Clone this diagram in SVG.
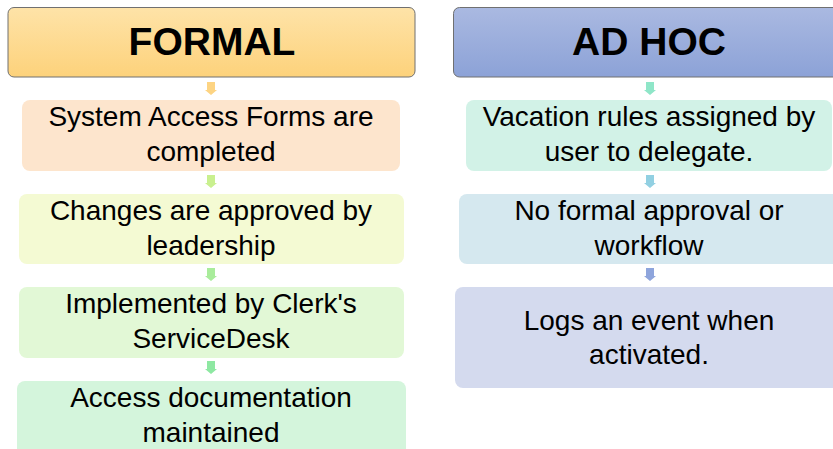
<svg xmlns="http://www.w3.org/2000/svg" width="833" height="449" viewBox="0 0 833 449">
<defs>
<linearGradient id="gOrange" x1="0" y1="0" x2="0" y2="1">
<stop offset="0" stop-color="#fee3a8"/>
<stop offset="1" stop-color="#fdd27b"/>
</linearGradient>
<linearGradient id="gBlue" x1="0" y1="0" x2="0" y2="1">
<stop offset="0" stop-color="#aab9e1"/>
<stop offset="1" stop-color="#8ca2d7"/>
</linearGradient>
<path id="arrow" d="M-4,0 H4 V8 H6 L0,13 L-6,8 H-4 Z"/>
</defs>
<style>
.hdr{stroke:#707070;stroke-width:1}
.ht{font-family:"Liberation Sans",Arial,sans-serif;font-weight:bold;font-size:39px;fill:#000;text-anchor:middle}
.t{font-family:"Liberation Sans",Arial,sans-serif;font-size:28px;fill:#000;text-anchor:middle}
</style>
<rect width="833" height="449" fill="#ffffff"/>
<g id="connectors">
<use href="#arrow" x="211" y="82" fill="#fdd483"/>
<use href="#arrow" x="211" y="175" fill="#c9f08f"/>
<use href="#arrow" x="211" y="268" fill="#a9ec9b"/>
<use href="#arrow" x="211" y="361" fill="#8ee8a2"/>
<use href="#arrow" x="650" y="82" fill="#8fe6c8"/>
<use href="#arrow" x="650" y="175" fill="#92d0e2"/>
<use href="#arrow" x="650" y="268" fill="#8ea5dc"/>
</g>
<g id="formal-header">
<rect class="hdr" x="8" y="7.5" width="407" height="69.5" rx="6" fill="url(#gOrange)"/>
<text class="ht" x="212" y="55">FORMAL</text>
</g>
<g id="adhoc-header">
<rect class="hdr" x="453.5" y="7.5" width="392" height="69.5" rx="6" fill="url(#gBlue)"/>
<text class="ht" x="649" y="55">AD HOC</text>
</g>
<g id="formal-1">
<rect x="22" y="100" width="378" height="71" rx="8" fill="#fde5cd"/>
<text class="t" x="211" y="126">System Access Forms are</text>
<text class="t" x="211" y="161">completed</text>
</g>
<g id="formal-2">
<rect x="19" y="194" width="385" height="70" rx="8" fill="#f4fad3"/>
<text class="t" x="211" y="220">Changes are approved by</text>
<text class="t" x="211" y="255">leadership</text>
</g>
<g id="formal-3">
<rect x="19" y="287" width="385" height="71" rx="8" fill="#e2f8d6"/>
<text class="t" x="211" y="313">Implemented by Clerk's</text>
<text class="t" x="211" y="348">ServiceDesk</text>
</g>
<g id="formal-4">
<rect x="17" y="381" width="389" height="80" rx="8" fill="#d4f5dc"/>
<text class="t" x="211" y="407">Access documentation</text>
<text class="t" x="211" y="442">maintained</text>
</g>
<g id="adhoc-1">
<rect x="466" y="100" width="366" height="71" rx="8" fill="#d2f2e7"/>
<text class="t" x="649" y="126">Vacation rules assigned by</text>
<text class="t" x="649" y="161">user to delegate.</text>
</g>
<g id="adhoc-2">
<rect x="459" y="194" width="390" height="70" rx="8" fill="#d5e8ef"/>
<text class="t" x="649" y="220">No formal approval or</text>
<text class="t" x="649" y="255">workflow</text>
</g>
<g id="adhoc-3">
<rect x="455" y="287" width="395" height="101" rx="8" fill="#d4daee"/>
<text class="t" x="649" y="330">Logs an event when</text>
<text class="t" x="649" y="364">activated.</text>
</g>
</svg>
